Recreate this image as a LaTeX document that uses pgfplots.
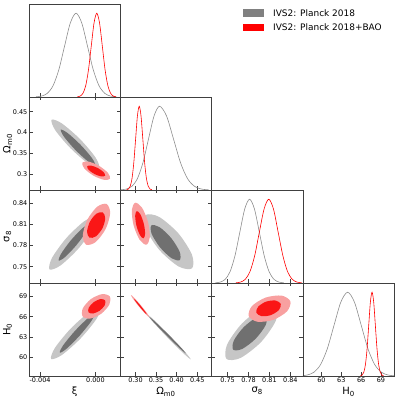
\documentclass[border=0pt]{standalone}
\usepackage{fontspec}
\setmainfont{DejaVu Sans}
\usepackage{pgfplots}
\pgfplotsset{compat=1.18}

\definecolor{gLight}{RGB}{198,198,198}
\definecolor{gDark}{RGB}{112,112,112}
\definecolor{rLight}{RGB}{248,160,160}
\definecolor{rDark}{RGB}{250,22,22}
\definecolor{gLine}{RGB}{140,140,140}

\pgfplotsset{
  panel/.style={
    scale only axis, width=91.3bp, height=93bp, anchor=south west,
    axis line style={black!75, line width=0.6pt},
    tick align=inside, major tick length=3.5bp,
    tick style={black!75, line width=0.5pt},
    scaled ticks=false,
    tick label style={font=\fontsize{6.5}{7}\selectfont, inner sep=1.5bp},
    xticklabels={}, yticklabels={},
    label style={font=\fontsize{10}{12}\selectfont},
    xlabel style={at={(axis description cs:0.5,-0.12)}, anchor=north, inner sep=0pt},
    ylabel style={at={(axis description cs:-0.235,0.5)}, anchor=center},
  },
  diag/.style={panel, ymin=0, ymax=1.11, ytick=\empty, xtick pos=bottom},
  xi/.style={xmin=-0.0048, xmax=0.0018, xtick={-0.004,0}},
  xil/.style={xticklabels={-0.004,0.000}, xlabel={ξ}},
  omx/.style={xmin=0.263, xmax=0.485, xtick={0.30,0.35,0.40,0.45}},
  omxl/.style={xticklabels={0.30,0.35,0.40,0.45}, xlabel={Ω\textsubscript{m0}}},
  omy/.style={ymin=0.263, ymax=0.485, ytick={0.30,0.35,0.40,0.45}},
  omyl/.style={yticklabels={0.3,0.35,0.4,0.45}, ylabel={Ω\textsubscript{m0}}},
  sx/.style={xmin=0.727, xmax=0.858, xtick={0.75,0.78,0.81,0.84}},
  sxl/.style={xticklabels={0.75,0.78,0.81,0.84}, xlabel={σ\textsubscript{8}}},
  sy/.style={ymin=0.727, ymax=0.858, ytick={0.75,0.78,0.81,0.84}},
  syl/.style={yticklabels={0.75,0.78,0.81,0.84}, ylabel={σ\textsubscript{8}}},
  hx/.style={xmin=57.2, xmax=71.0, xtick={60,63,66,69}},
  hxl/.style={xticklabels={60,63,66,69}, xlabel={H\textsubscript{0}}},
  hy/.style={ymin=57.2, ymax=71.0, ytick={60,63,66,69}},
  hyl/.style={yticklabels={60,63,66,69}, ylabel={H\textsubscript{0}}},
  go/.style={fill=gLight, draw=none, smooth cycle},
  gd/.style={fill=gDark, draw=none, smooth cycle},
  ro/.style={fill=rLight, draw=none, smooth cycle},
  rd/.style={fill=rDark, draw=none, smooth cycle},
  gl/.style={gLine, line width=0.6pt, smooth},
  rl/.style={red, line width=0.6pt, smooth},
}

\begin{document}
\begin{tikzpicture}
\path[use as bounding box] (0,0) rectangle (399bp,399bp);

% diagonal: 1D marginals
\begin{axis}[diag, xi, at={(29bp,302bp)}]
\addplot[gl] coordinates {(-0.004305,0.0022) (-0.00389,0.0111) (-0.003475,0.0439) (-0.00306,0.1353) (-0.002645,0.3247) (-0.00223,0.6065) (-0.001815,0.8825) (-0.0014,1) (-0.000985,0.8825) (-0.00057,0.6065) (-0.000155,0.3247) (0.00026,0.1353) (0.000675,0.0439) (0.00109,0.0111) (0.001505,0.0022)};
\addplot[rl] coordinates {(-0.0013,0.0022) (-0.0011,0.0111) (-0.0009,0.0439) (-0.0007,0.1353) (-0.0005,0.3247) (-0.0003,0.6065) (-0.0001,0.8825) (0.0001,1) (0.0003,0.8825) (0.0005,0.6065) (0.0007,0.3247) (0.0009,0.1353) (0.0011,0.0439) (0.0013,0.0111) (0.0015,0.0022)};
\end{axis}

\begin{axis}[diag, omx, at={(120.3bp,209bp)}]
\addplot[gl] coordinates {(0.264,0.0022) (0.2775,0.0111) (0.291,0.0439) (0.3045,0.1353) (0.318,0.3247) (0.3315,0.6065) (0.345,0.8825) (0.3585,1) (0.3755,0.8825) (0.3925,0.6065) (0.4095,0.3247) (0.4265,0.1353) (0.4435,0.0439) (0.4605,0.0111) (0.4775,0.0022)};
\addplot[rl] coordinates {(0.2782,0.0022) (0.2826,0.0111) (0.287,0.0439) (0.2914,0.1353) (0.2958,0.3247) (0.3002,0.6065) (0.3046,0.8825) (0.309,1) (0.3134,0.8825) (0.3178,0.6065) (0.3222,0.3247) (0.3266,0.1353) (0.331,0.0439) (0.3354,0.0111) (0.3398,0.0022)};
\end{axis}

\begin{axis}[diag, sx, at={(211.6bp,116bp)}]
\addplot[gl] coordinates {(0.7325,0.0022) (0.7395,0.0111) (0.7465,0.0439) (0.7535,0.1353) (0.7605,0.3247) (0.7675,0.6065) (0.7745,0.8825) (0.7815,1) (0.7885,0.8825) (0.7955,0.6065) (0.8025,0.3247) (0.8095,0.1353) (0.8165,0.0439) (0.8235,0.0111) (0.8305,0.0022)};
\addplot[rl] coordinates {(0.7618,0.0022) (0.7685,0.0111) (0.7753,0.0439) (0.782,0.1353) (0.7888,0.3247) (0.7955,0.6065) (0.8023,0.8825) (0.809,1) (0.8158,0.8825) (0.8225,0.6065) (0.8293,0.3247) (0.836,0.1353) (0.8428,0.0439) (0.8495,0.0111) (0.8563,0.0022)};
\end{axis}

\begin{axis}[diag, hx, hxl, at={(302.9bp,23bp)}]
\addplot[gl] coordinates {(56.78,0.0022) (57.81,0.0111) (58.84,0.0439) (59.86,0.1353) (60.885,0.3247) (61.91,0.6065) (62.935,0.8825) (63.96,1) (64.985,0.8825) (66.01,0.6065) (67.035,0.3247) (68.06,0.1353) (69.085,0.0439) (70.11,0.0111) (71.135,0.0022)};
\addplot[rl] coordinates {(65.9,0.0022) (66.15,0.0111) (66.4,0.0439) (66.65,0.1353) (66.9,0.3247) (67.15,0.6065) (67.4,0.8825) (67.65,1) (67.9,0.8825) (68.15,0.6065) (68.4,0.3247) (68.65,0.1353) (68.9,0.0439) (69.15,0.0111) (69.4,0.0022)};
\end{axis}

% Omega_m0 vs xi
\begin{axis}[panel, xi, omy, omyl, at={(29bp,209bp)}]
\addplot[go] coordinates {(0.00027,0.3162) (0.00000,0.3410) (-0.00112,0.3848) (-0.00243,0.4220) (-0.00317,0.4309) (-0.00291,0.4061) (-0.00179,0.3623) (-0.00048,0.3251)};
\addplot[gd] coordinates {(-0.000018,0.3226) (-0.00025,0.3393) (-0.001075,0.3710) (-0.00201,0.3990) (-0.002505,0.4070) (-0.002273,0.3903) (-0.001448,0.3586) (-0.000513,0.3306)};
\addplot[ro] coordinates {(0.001058,0.2900) (0.000905,0.3039) (0.000255,0.3209) (-0.000515,0.3309) (-0.00095,0.3282) (-0.000797,0.3143) (-0.000147,0.2973) (0.000623,0.2873)};
\addplot[rd] coordinates {(0.0007,0.2971) (0.000594,0.3055) (0.000173,0.3155) (-0.000319,0.3213) (-0.000592,0.3194) (-0.000487,0.3111) (-0.000066,0.3011) (0.000427,0.2953)};
\end{axis}

% sigma8 vs xi
\begin{axis}[panel, xi, sy, syl, at={(29bp,116bp)}]
\addplot[go] coordinates {(-0.000018,0.8195) (-0.000195,0.8034) (-0.001235,0.7753) (-0.002529,0.7516) (-0.003318,0.7461) (-0.003141,0.7622) (-0.002101,0.7903) (-0.000807,0.8140)};
\addplot[gd] coordinates {(-0.000496,0.8089) (-0.000668,0.7992) (-0.001371,0.7804) (-0.002191,0.7636) (-0.002648,0.7586) (-0.002476,0.7683) (-0.001773,0.7871) (-0.000953,0.8039)};
\addplot[ro] coordinates {(0.000819,0.8383) (0.001068,0.8252) (0.000738,0.8030) (0.00002,0.7847) (-0.000664,0.7809) (-0.000912,0.7940) (-0.000582,0.8162) (0.000135,0.8345)};
\addplot[rd] coordinates {(0.000532,0.8265) (0.000711,0.8180) (0.000506,0.8040) (0.000035,0.7927) (-0.000424,0.7908) (-0.000604,0.7993) (-0.000398,0.8133) (0.000073,0.8246)};
\end{axis}

% sigma8 vs Omega_m0
\begin{axis}[panel, omx, sy, at={(120.3bp,116bp)}]
\addplot[go] coordinates {(0.4375,0.7476) (0.4372,0.7669) (0.4042,0.7969) (0.3576,0.8200) (0.3249,0.8228) (0.3252,0.8034) (0.3582,0.7734) (0.4047,0.7503)};
\addplot[gd] coordinates {(0.4077,0.7593) (0.4072,0.7711) (0.3867,0.7903) (0.3583,0.8057) (0.3386,0.8082) (0.3391,0.7964) (0.3596,0.7772) (0.3880,0.7618)};
\addplot[ro] coordinates {(0.2992,0.8401) (0.3155,0.8334) (0.3302,0.8133) (0.3348,0.7915) (0.3265,0.7809) (0.3102,0.7877) (0.2955,0.8078) (0.2909,0.8295)};
\addplot[rd] coordinates {(0.3032,0.8284) (0.3119,0.8236) (0.3202,0.8104) (0.3233,0.7964) (0.3193,0.7899) (0.3106,0.7946) (0.3022,0.8079) (0.2992,0.8219)};
\end{axis}

% H0 vs xi
\begin{axis}[panel, xi, xil, hy, hyl, at={(29bp,23bp)}]
\addplot[go] coordinates {(0.000341,67.29) (0.000078,65.67) (-0.001068,62.78) (-0.002423,60.32) (-0.003198,59.72) (-0.002935,61.34) (-0.00179,64.23) (-0.000434,66.69)};
\addplot[gd] coordinates {(-0.00009,66.30) (-0.000329,65.24) (-0.001156,63.15) (-0.002086,61.25) (-0.002576,60.66) (-0.002337,61.73) (-0.00151,63.82) (-0.00058,65.71)};
\addplot[ro] coordinates {(0.001034,69.02) (0.001015,67.83) (0.000434,66.46) (-0.000369,65.73) (-0.000927,66.05) (-0.000907,67.25) (-0.000326,68.61) (0.000477,69.35)};
\addplot[rd] coordinates {(0.0007,68.43) (0.00068,67.73) (0.000322,66.91) (-0.000166,66.47) (-0.000496,66.65) (-0.000477,67.35) (-0.000118,68.16) (0.000369,68.61)};
\end{axis}

% H0 vs Omega_m0
\begin{axis}[panel, omx, omxl, hy, at={(120.3bp,23bp)}]
\addplot[go] coordinates {(0.4343,59.67) (0.4204,60.77) (0.3834,63.19) (0.3448,65.52) (0.3273,66.40) (0.3412,65.31) (0.3782,62.88) (0.4168,60.55)};
\addplot[gd] coordinates {(0.4222,60.56) (0.4105,61.42) (0.3797,63.36) (0.3479,65.24) (0.3338,65.96) (0.3455,65.09) (0.3763,63.16) (0.4080,61.28)};
\addplot[ro] coordinates {(0.3338,65.91) (0.3287,66.47) (0.3134,67.67) (0.2968,68.81) (0.2887,69.22) (0.2938,68.66) (0.3091,67.45) (0.3256,66.32)};
\addplot[rd] coordinates {(0.3273,66.35) (0.3237,66.73) (0.3133,67.55) (0.3021,68.34) (0.2968,68.63) (0.3004,68.24) (0.3108,67.42) (0.3220,66.64)};
\end{axis}

% H0 vs sigma8
\begin{axis}[panel, sx, sxl, hy, at={(211.6bp,23bp)}]
\addplot[go] coordinates {(0.8196,67.44) (0.8189,65.34) (0.7977,62.21) (0.7685,59.88) (0.7484,59.72) (0.7491,61.83) (0.7703,64.96) (0.7995,67.28)};
\addplot[gd] coordinates {(0.8054,66.05) (0.8044,64.71) (0.7900,62.71) (0.7708,61.21) (0.7579,61.11) (0.7589,62.45) (0.7732,64.46) (0.7925,65.95)};
\addplot[ro] coordinates {(0.8401,68.28) (0.8352,66.79) (0.8157,65.54) (0.7929,65.25) (0.7802,66.10) (0.7850,67.59) (0.8046,68.84) (0.8274,69.13)};
\addplot[rd] coordinates {(0.8263,67.88) (0.8235,66.99) (0.8121,66.24) (0.7987,66.08) (0.7911,66.60) (0.7939,67.49) (0.8053,68.24) (0.8187,68.40)};
\end{axis}

% legend
\fill[gray] (243bp,382.3bp) rectangle (264bp,389.7bp);
\fill[red] (243bp,367.7bp) rectangle (264bp,375bp);
\node[anchor=west, inner sep=0pt, font=\fontsize{9}{10}\selectfont] at (273bp,386bp) {IVS2: Planck 2018};
\node[anchor=west, inner sep=0pt, font=\fontsize{9}{10}\selectfont] at (273bp,371.4bp) {IVS2: Planck 2018+BAO};
\end{tikzpicture}
\end{document}
